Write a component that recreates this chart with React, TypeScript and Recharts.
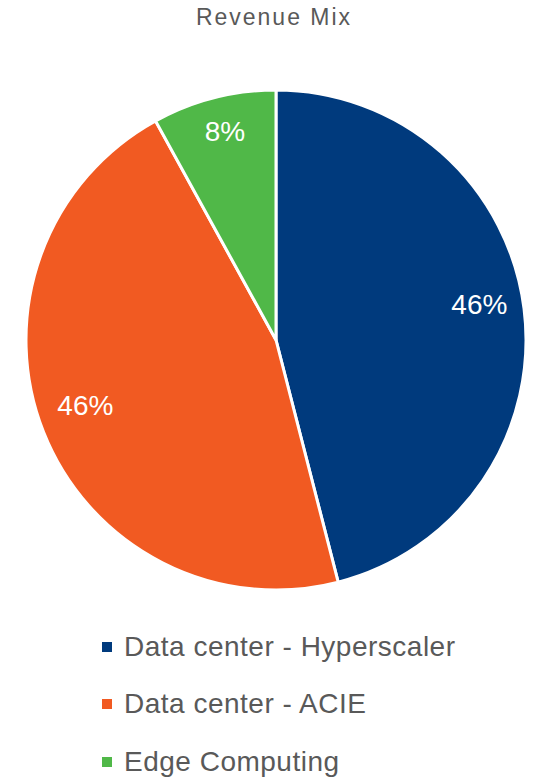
import { Legend, Pie, PieChart } from "recharts";

const categories = ["Data center - Hyperscaler", "Data center - ACIE", "Edge Computing"];
const shares = [46, 46, 8];
const colors = ["#003A7D", "#F15A22", "#50B848"];

const data = categories.map((name, i) => ({ name, value: shares[i], fill: colors[i] }));

const FONT = '"Liberation Sans", Arial, sans-serif';
const RADIAN = Math.PI / 180;

function SliceLabel(props: any) {
  const { cx, cy, midAngle, outerRadius, value } = props;
  const r = outerRadius * 0.82;
  const x = cx + r * Math.cos(-midAngle * RADIAN);
  // labels sit a little above the mid-angle point, like the original
  const y = cy + r * Math.sin(-midAngle * RADIAN) - 10;
  return (
    <text x={x} y={y} fill="#fff" fontSize={28} fontFamily={FONT} textAnchor="middle" dominantBaseline="central">
      {`${value}%`}
    </text>
  );
}

function LegendList(props: any) {
  // keep the series order instead of the alphabetical one
  const items = [...(props.payload || [])].sort(
    (a: any, b: any) => categories.indexOf(a.value) - categories.indexOf(b.value)
  );
  return (
    <div style={{ fontFamily: FONT, fontSize: 28, color: "#595959", letterSpacing: 0.5 }}>
      {items.map((entry: any) => (
        <div key={entry.value} style={{ display: "flex", alignItems: "center", height: 57.5 }}>
          <span style={{ width: 10, height: 10, background: entry.color, marginLeft: 102, marginRight: 12 }} />
          <span>{entry.value}</span>
        </div>
      ))}
    </div>
  );
}

export default function App() {
  return (
    <div style={{ position: "absolute", left: 0, top: 0, width: 534, height: 778, background: "#fff" }}>
      <div
        style={{
          position: "absolute",
          left: 274,
          top: 6,
          transform: "translateX(-50%)",
          fontFamily: FONT,
          fontSize: 23,
          letterSpacing: 2,
          color: "#595959",
          whiteSpace: "nowrap",
          lineHeight: 1,
          zIndex: 1,
        }}
      >
        Revenue Mix
      </div>
      <PieChart width={534} height={778} margin={{ top: 0, right: 0, bottom: 0, left: 0 }}>
        <Pie
          data={data}
          dataKey="value"
          nameKey="name"
          cx={276}
          cy={340}
          outerRadius={250}
          startAngle={90}
          endAngle={-270}
          stroke="#fff"
          strokeWidth={3}
          label={SliceLabel}
          labelLine={false}
          isAnimationActive={false}
        />
        <Legend
          layout="vertical"
          verticalAlign="bottom"
          align="center"
          content={LegendList}
          wrapperStyle={{ top: 618, left: 0, width: 534, bottom: "auto" }}
        />
      </PieChart>
    </div>
  );
}
